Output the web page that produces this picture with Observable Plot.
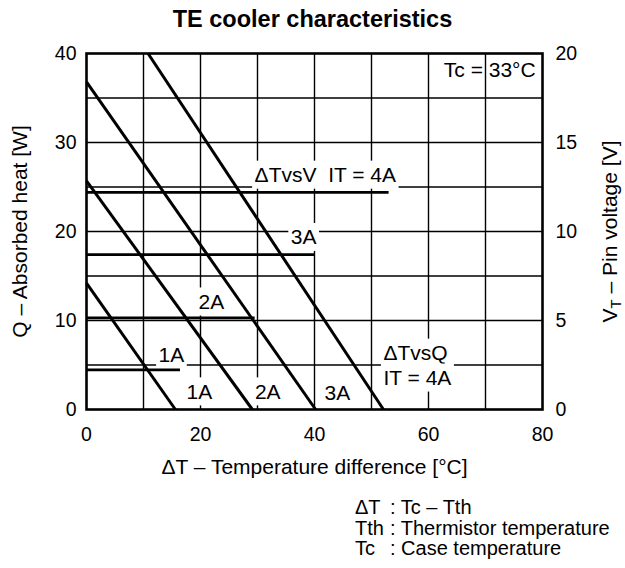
<!DOCTYPE html>
<html><head><meta charset="utf-8">
<script src="https://cdn.jsdelivr.net/npm/d3@7"></script>
<script src="https://cdn.jsdelivr.net/npm/@observablehq/plot@0.6"></script>
<style>
body{margin:0;background:#fff;font-family:"Liberation Sans",Arial,Helvetica,sans-serif;color:#000;}
#wrap{position:relative;width:625px;height:568px;overflow:hidden;}
#chart{position:absolute;left:0;top:0;}
#title{position:absolute;top:6px;left:0;width:625px;text-align:center;font-weight:bold;font-size:23.5px;line-height:26px;}
#notes{position:absolute;left:355px;top:497px;font-size:20px;line-height:20.5px;white-space:nowrap;}
#notes .t{display:inline-block;width:35px;}
</style></head><body>
<div id="wrap">
  <div id="chart"></div>
  <div id="title">TE cooler characteristics</div>
  <div id="notes"></div>
</div>
<script>
// axes
const xTicks = [0, 20, 40, 60, 80];
const yTicks = [0, 10, 20, 30, 40];
const vTicks = [0, 5, 10, 15, 20];
const qPerVolt = 2;
const xGrid = [10, 20, 30, 40, 50, 60, 70];
const yGrid = [5, 10, 15, 20, 25, 30, 35];

// ΔT vs Q lines (per current)
const currents = ["1A", "2A", "3A", "4A"];
const qStartDT = [0, 0, 0, 10.8];
const qStartQ  = [14.2, 25.7, 36.8, 40];
const qEndDT   = [15.6, 29.1, 40.2, 52.1];
const qEndQ    = [0, 0, 0, 0];

// ΔT vs V lines (per current), volts
const vStartDT = [0, 0, 0, 0];
const vVolts   = [2.23, 5.15, 8.7, 12.2];
const vEndDT   = [16.4, 29.5, 40, 53];

// labels
const vLabelText = ["1A", "2A", "3A", "ΔTvsV  IT = 4A"];
const vLabelDT   = [14.9, 21.9, 38.1, 41.9];
const vLabelQ    = [6.07, 12.05, 19.3, 26.3];
const qLabelText = ["1A", "2A", "3A"];
const qLabelDT   = [19.8, 31.8, 44];
const qLabelQ    = [1.95, 1.95, 1.8];
const q4LabelText = ["ΔTvsQ", "IT = 4A"];
const q4LabelDT   = [52.1, 52.1];
const q4LabelQ    = [6.3, 3.5];
const tcText = ["Tc = 33°C"];
const tcDT = [78.8];
const tcQ = [38.1];
const rightLabel = "VT – Pin voltage [V]";

const notesTerm = ["ΔT", "Tth", "Tc"];
const notesDesc = ["Tc – Tth", "Thermistor temperature", "Case temperature"];

const idx4 = d3.range(currents.length);
const plot = Plot.plot({
  width: 625,
  height: 568,
  marginTop: 53,
  marginBottom: 159,
  marginLeft: 86,
  marginRight: 83,
  style: {fontFamily: "'Liberation Sans', Arial, Helvetica, sans-serif", fontSize: "19.5px", color: "black", background: "white"},
  x: {domain: [0, 80]},
  y: {domain: [0, 40]},
  marks: [
    Plot.gridX(xGrid, {stroke: "black", strokeOpacity: 1, strokeWidth: 1.4}),
    Plot.gridY(yGrid, {stroke: "black", strokeOpacity: 1, strokeWidth: 1.4}),
    Plot.axisX(xTicks, {tickSize: 0, tickPadding: 17.5, label: null, fontSize: 19.5}),
    Plot.axisY(yTicks, {anchor: "left", tickSize: 0, tickPadding: 10, label: null, fontSize: 19.5}),
    Plot.axisY(vTicks.map(v => v * qPerVolt), {anchor: "right", tickSize: 0, tickPadding: 13, label: null, fontSize: 19.5, tickFormat: d => d / qPerVolt}),
    Plot.text(["ΔT – Temperature difference [°C]"], {frameAnchor: "bottom", dy: 58, fontSize: 21, lineAnchor: "middle"}),
    Plot.text(["Q – Absorbed heat [W]"], {frameAnchor: "left", dx: -66.5, rotate: -90, fontSize: 21, lineAnchor: "middle", textAnchor: "middle"}),
    Plot.text([rightLabel], {frameAnchor: "right", dx: 68, rotate: -90, fontSize: 21, lineAnchor: "middle", textAnchor: "middle"}),
    Plot.text(d3.range(vLabelText.length), {x: i => vLabelDT[i], y: i => vLabelQ[i], text: i => vLabelText[i], fontSize: 21, lineAnchor: "middle", textAnchor: "middle"}),
    Plot.text(d3.range(qLabelText.length), {x: i => qLabelDT[i], y: i => qLabelQ[i], text: i => qLabelText[i], fontSize: 21, lineAnchor: "middle", textAnchor: "middle"}),
    Plot.text(d3.range(q4LabelText.length), {x: i => q4LabelDT[i], y: i => q4LabelQ[i], text: i => q4LabelText[i], fontSize: 21, lineAnchor: "middle", textAnchor: "start"}),
    Plot.text(tcText, {x: tcDT, y: tcQ, fontSize: 21, lineAnchor: "middle", textAnchor: "end"}),
    Plot.link(idx4, {x1: i => qStartDT[i], y1: i => qStartQ[i], x2: i => qEndDT[i], y2: i => qEndQ[i], stroke: "black", strokeWidth: 3}),
    Plot.link(idx4, {x1: i => vStartDT[i], y1: i => vVolts[i] * qPerVolt, x2: i => vEndDT[i], y2: i => vVolts[i] * qPerVolt, stroke: "black", strokeWidth: 2.8}),
    Plot.frame({stroke: "black", strokeWidth: 2.6})
  ]
});
document.getElementById("chart").appendChild(plot);

// white boxes behind in-plot labels
const boxed = new Set([...vLabelText, ...qLabelText, ...q4LabelText]);
const allText = Array.from(plot.querySelectorAll("text"));
allText.forEach(el => {
  const s = el.textContent;
  if (boxed.has(s)) {
    const b = el.getBBox();
    const pad = 2.5;
    const r = document.createElementNS("http://www.w3.org/2000/svg", "rect");
    r.setAttribute("x", b.x - pad);
    r.setAttribute("y", b.y - pad);
    r.setAttribute("width", b.width + 2 * pad);
    r.setAttribute("height", b.height + 2 * pad);
    r.setAttribute("fill", "white");
    r.setAttribute("stroke", "none");
    const tr = el.getAttribute("transform");
    if (tr) r.setAttribute("transform", tr);
    el.parentNode.insertBefore(r, el);
  } else if (s === rightLabel) {
    const t = d3.select(el);
    t.text(null);
    t.append("tspan").text("V");
    t.append("tspan").attr("font-size", "15px").attr("dy", "4").text("T");
    t.append("tspan").attr("dy", "-4").text(" – Pin voltage [V]");
  }
});

// notes
const notes = d3.select("#notes");
notesTerm.forEach((term, i) => {
  const row = notes.append("div");
  row.append("span").attr("class", "t").text(term);
  row.append("span").text(": " + notesDesc[i]);
});
</script>
</body></html>
